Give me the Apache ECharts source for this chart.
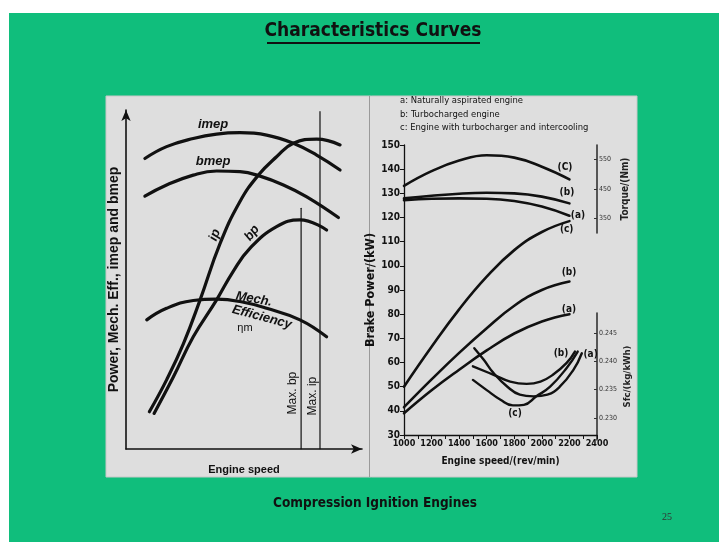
<!DOCTYPE html>
<html><head><meta charset="utf-8">
<script src="https://cdn.jsdelivr.net/npm/echarts@6/dist/echarts.min.js"></script>
<style>html,body{margin:0;padding:0;background:#fff}#c{width:719px;height:542px}</style>
</head><body><div id="c"></div>
<script>
// ---------- Left chart (qualitative, normalised 0-100 scale) ----------
const imep    = [[8,85.7],[17.2,89.2],[28.5,91.6],[38.4,92.9],[48.3,93.3],[59.6,92.6],[70.9,90.2],[80.8,86.7],[90.7,82.3]];
const bmep    = [[8,74.6],[17.2,77.9],[28.5,80.8],[38.4,82.0],[48.3,81.8],[56.8,80.5],[66.7,77.9],[76.6,74.4],[90,68.3]];
const ip      = [[9.9,11],[17.2,20.4],[24.3,31],[31.4,44],[39.8,60.5],[48.3,73],[56.1,80.8],[63.8,86.2],[70.9,90.2],[80.8,91.4],[90.7,89.7]];
const bp      = [[11.9,10.5],[20.1,21.3],[28.5,33.1],[38.4,44],[45.5,52.5],[52.5,59.2],[63.8,65.6],[73.7,67.6],[85,64.6]];
const mechEff = [[8.8,38.1],[17.2,41.5],[28.5,43.8],[38.4,44.2],[48.3,43.5],[59.6,41.5],[73.7,38.1],[85,33.1]];
const maxBp   = [[74.2,0],[74.2,71]];
const maxIp   = [[82.2,0],[82.2,99.5]];

// ---------- Right chart ----------
const speed   = [1000,1200,1400,1600,1800,2000,2200];           // rev/min
const powerA  = [39,48.5,57,65,72,77,80];                       // kW
const powerB  = [41.5,53,64,74.2,83.5,90,93.5];
const powerC  = [50,66.5,82,95.5,106.5,114,118.5];
const torqueA = [412,417,418,417,409,390,359];                  // Nm
const torqueB = [418,427,434,437,435,424,401];
const torqueC = [461,511,547,565,557,526,483];
const sfcSpeedA = [1510,1580,1650,1750,1840,1940,2040,2130,2230,2290];
const sfcA      = [0.2423,0.2402,0.2379,0.2355,0.2341,0.2338,0.2341,0.2355,0.2385,0.2414];
const sfcSpeedB = [1500,1650,1770,1890,1990,2080,2180,2240];
const sfcB      = [0.2391,0.2376,0.2364,0.2360,0.2364,0.2376,0.2397,0.2417];
const sfcSpeedC = [1500,1600,1700,1790,1870,1960,2060,2180,2260];
const sfcC      = [0.2367,0.2349,0.2332,0.2322,0.2323,0.2338,0.2355,0.2388,0.2417];
const torqueTicks = [350,450,550];
const sfcTicks    = [0.230,0.235,0.240,0.245];
const legendLines = ['a: Naturally aspirated engine','b: Turbocharged engine','c: Engine with turbocharger and intercooling'];

const NARROW = "'DejaVu Sans Condensed','Liberation Sans Narrow','Arial Narrow',sans-serif";
const SANS = "'Liberation Sans',Arial,sans-serif";
const INK = '#111';

const zip = (xs, ys) => xs.map((x, i) => [x, ys[i]]);
function curve(data, xi, yi, w) {
  return {type:'line', xAxisIndex:xi, yAxisIndex:yi, data, smooth:0.45, symbol:'none',
          lineStyle:{color:INK, width:w, cap:'round', join:'round'}, silent:true, z:5};
}

const chart = echarts.init(document.getElementById('c'), null, {renderer:'canvas'});
const option = {
  animation:false,
  backgroundColor:'#fff',
  grid:[
    {left:126, top:110, width:236, height:339},
    {left:404, top:145, width:193, height:290},
    {left:404, top:145, width:193, height:88},
    {left:404, top:313, width:193, height:127}
  ],
  xAxis:[
    {gridIndex:0, type:'value', min:0, max:100,
     axisLine:{lineStyle:{color:INK,width:1.6}, symbol:['none','arrow'], symbolSize:[7,11]},
     axisTick:{show:false}, axisLabel:{show:false}, splitLine:{show:false},
     name:'Engine speed', nameLocation:'middle', nameGap:15,
     nameTextStyle:{fontFamily:SANS, fontWeight:'bold', fontSize:11, color:INK}},
    {gridIndex:1, type:'value', min:1000, max:2400, interval:200,
     axisLine:{lineStyle:{color:INK,width:1.3}},
     axisTick:{length:4, lineStyle:{color:INK}},
     minorTick:{show:true, splitNumber:2, length:4, lineStyle:{color:INK}},
     axisLabel:{fontFamily:NARROW, fontWeight:'bold', fontSize:9, color:INK, margin:4, formatter:v => String(v)},
     splitLine:{show:false},
     name:'Engine speed/(rev/min)', nameLocation:'middle', nameGap:21,
     nameTextStyle:{fontFamily:NARROW, fontWeight:'bold', fontSize:10, color:INK}},
    {gridIndex:2, type:'value', min:1000, max:2400, show:false},
    {gridIndex:3, type:'value', min:1000, max:2400, show:false}
  ],
  yAxis:[
    {gridIndex:0, type:'value', min:0, max:100,
     axisLine:{lineStyle:{color:INK,width:1.6}, symbol:['none','arrow'], symbolSize:[7,11]},
     axisTick:{show:false}, axisLabel:{show:false}, splitLine:{show:false},
     name:'Power, Mech. Eff., imep and bmep', nameLocation:'middle', nameGap:5, nameRotate:90,
     nameTextStyle:{fontFamily:SANS, fontWeight:'bold', fontSize:14, color:INK}},
    {gridIndex:1, type:'value', min:30, max:150, interval:10,
     axisLine:{show:true, lineStyle:{color:INK,width:1.3}},
     axisTick:{show:true, length:4, lineStyle:{color:INK}},
     axisLabel:{fontFamily:NARROW, fontWeight:'bold', fontSize:10, color:INK, margin:4},
     splitLine:{show:false},
     name:'Brake Power/(kW)', nameLocation:'middle', nameGap:21, nameRotate:90,
     nameTextStyle:{fontFamily:NARROW, fontWeight:'bold', fontSize:12.5, color:INK}},
    {gridIndex:2, type:'value', position:'right', min:300, max:600,
     axisLine:{show:true, lineStyle:{color:'#333',width:1.6}},
     axisTick:{show:true, inside:true, length:3, customValues:torqueTicks, lineStyle:{color:'#333'}},
     axisLabel:{show:true, customValues:torqueTicks, fontFamily:NARROW, fontSize:7, color:'#333', margin:2},
     splitLine:{show:false},
     name:'Torque/(Nm)', nameLocation:'middle', nameGap:23, nameRotate:90,
     nameTextStyle:{fontFamily:NARROW, fontWeight:'bold', fontSize:10, color:'#222'}},
    {gridIndex:3, type:'value', position:'right', min:0.2261, max:0.2485,
     axisLine:{show:true, lineStyle:{color:'#333',width:1.6}},
     axisTick:{show:true, inside:true, length:3, customValues:sfcTicks, lineStyle:{color:'#333'}},
     axisLabel:{show:true, customValues:sfcTicks, fontFamily:NARROW, fontSize:7, color:'#333', margin:2,
                formatter:v => v.toFixed(3)},
     splitLine:{show:false},
     name:'Sfc/(kg/kWh)', nameLocation:'middle', nameGap:26, nameRotate:90,
     nameTextStyle:{fontFamily:NARROW, fontWeight:'bold', fontSize:9.5, color:'#222'}}
  ],
  series:[
    curve(imep,0,0,3.2), curve(bmep,0,0,3.2), curve(ip,0,0,3.2), curve(bp,0,0,3.2), curve(mechEff,0,0,3.2),
    Object.assign(curve(maxBp,0,0,1.2), {smooth:false}),
    Object.assign(curve(maxIp,0,0,1.2), {smooth:false}),
    curve(zip(speed,powerA),1,1,2.6), curve(zip(speed,powerB),1,1,2.6), curve(zip(speed,powerC),1,1,2.6),
    curve(zip(speed,torqueA),2,2,2.6), curve(zip(speed,torqueB),2,2,2.6), curve(zip(speed,torqueC),2,2,2.6),
    curve(zip(sfcSpeedA,sfcA),3,3,2.4), curve(zip(sfcSpeedB,sfcB),3,3,2.4), curve(zip(sfcSpeedC,sfcC),3,3,2.4)
  ]
};
chart.setOption(option);

// annotations anchored in data coordinates
const leftNotes = [
  {t:'imep', at:[36.9,95.6], r:0, f:'italic bold 13px '+SANS},
  {t:'bmep', at:[36.9,84.7], r:0, f:'italic bold 13px '+SANS},
  {t:'ip', at:[37.7,63.1], r:70, f:'italic bold 13px '+SANS},
  {t:'bp', at:[53.4,63.7], r:52, f:'italic bold 13px '+SANS},
  {t:'Mech.', at:[54.2,44.2], r:-10, f:'italic bold 13px '+SANS},
  {t:'Efficiency', at:[57.6,38.9], r:-15, f:'italic bold 13px '+SANS},
  {t:'\u03B7m', at:[50.4,35.7], r:0, f:'11px '+SANS},
  {t:'Max. bp', at:[70.8,16.5], r:90, f:'12px '+SANS},
  {t:'Max. ip', at:[79.2,15.6], r:90, f:'12px '+SANS}
];
const rightNotes = [
  {t:'(C)', at:[2168,140.9]}, {t:'(b)', at:[2182,130.2]}, {t:'(a)', at:[2262,121]},
  {t:'(c)', at:[2180,114.9]}, {t:'(b)', at:[2197,97.2]}, {t:'(a)', at:[2197,82.1]},
  {t:'(b)', at:[2139,63.9]}, {t:'(a)', at:[2354,63.2]}, {t:'(c)', at:[1805,38.8]}
];

const g = [
  {type:'rect', shape:{x:9,y:13,width:710,height:529}, style:{fill:'#10BE7C'}, z:-20, silent:true},
  {type:'rect', shape:{x:106,y:96,width:531,height:381}, style:{fill:'#DEDEDE', stroke:'#C8C8C8', lineWidth:1}, z:-19, silent:true},
  {type:'line', shape:{x1:369.5,y1:96,x2:369.5,y2:477}, style:{stroke:'#9A9A9A', lineWidth:1}, z:-18, silent:true},
  {type:'text', x:373, y:31, style:{text:'Characteristics Curves', font:'bold 19px '+NARROW, fill:'#111', align:'center', verticalAlign:'middle'}, z:50},
  {type:'line', shape:{x1:267,y1:43,x2:480,y2:43}, style:{stroke:'#111', lineWidth:2}, z:50},
  {type:'text', x:375, y:503, style:{text:'Compression Ignition Engines', font:'bold 13.5px '+NARROW, fill:'#111', align:'center', verticalAlign:'middle'}, z:50},
  {type:'text', x:667, y:517, style:{text:'25', font:'10px "Liberation Serif","DejaVu Serif",serif', fill:'#333', align:'center', verticalAlign:'middle'}, z:50}
];
legendLines.forEach((s, i) => g.push({type:'text', x:400, y:101 + i*13.3,
  style:{text:s, font:'9.4px '+NARROW, fill:'#111', align:'left', verticalAlign:'middle'}, z:50}));
leftNotes.forEach(n => {
  const p = chart.convertToPixel({xAxisIndex:0, yAxisIndex:0}, n.at);
  g.push({type:'text', x:p[0], y:p[1], rotation:n.r*Math.PI/180,
    style:{text:n.t, font:n.f, fill:INK, align:'center', verticalAlign:'middle'}, z:50});
});
rightNotes.forEach(n => {
  const p = chart.convertToPixel({xAxisIndex:1, yAxisIndex:1}, n.at);
  g.push({type:'text', x:p[0], y:p[1],
    style:{text:n.t, font:'bold 10px '+NARROW, fill:INK, align:'center', verticalAlign:'middle'}, z:50});
});
chart.setOption({graphic:g});
</script></body></html>
